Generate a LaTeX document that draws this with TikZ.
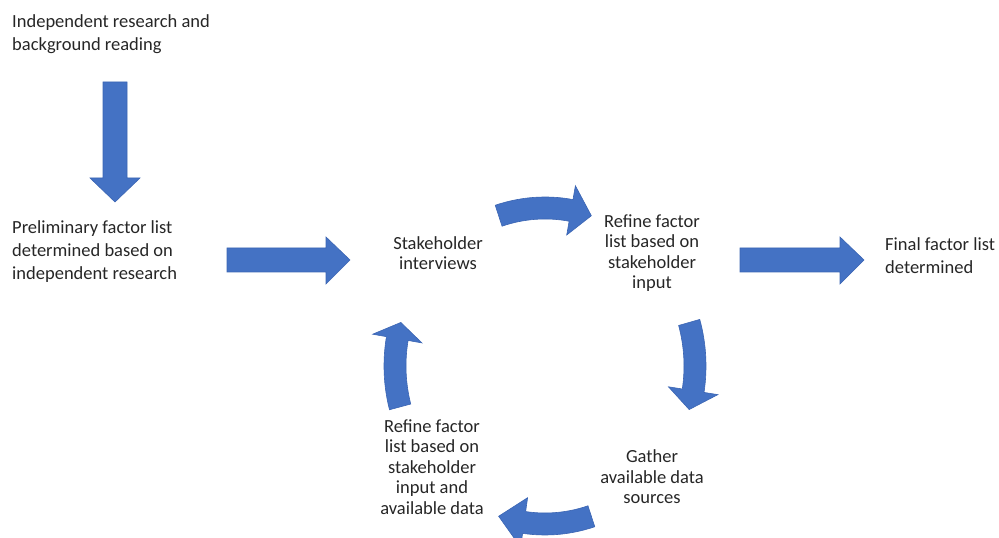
\documentclass[tikz,border=0pt]{standalone}
\usepackage{fontspec}
\setmainfont{Carlito}
\definecolor{arrowblue}{HTML}{4472C4}
\definecolor{arrowedge}{HTML}{3B65B3}
\definecolor{textgray}{HTML}{262626}

\tikzset{
  blockarrow/.style={fill=arrowblue, draw=arrowedge, line width=0.6pt, line join=miter},
  leftlabel/.style={align=left, inner sep=0pt, text=textgray, font=\fontsize{18.5}{23}\selectfont},
  midlabel/.style={align=center, inner sep=0pt, text=textgray, font=\fontsize{18.5}{20.6}\selectfont}
}

% curved block arrow on the loop: tail angle, head base angle, tip angle
\newcommand{\bentarrow}[3]{%
  \draw[blockarrow] (#1:161pt and 169pt)
    arc[start angle=#1, end angle=#2, x radius=161pt, y radius=169pt]
    -- (#2:175pt and 183pt) -- (#3:150pt and 158pt) -- (#2:125pt and 133pt)
    -- (#2:139pt and 147pt)
    arc[start angle=#2, end angle=#1, x radius=139pt, y radius=147pt] -- cycle;}

\begin{document}
\begin{tikzpicture}[x=1pt, y=1pt]

            \useasboundingbox (0,0) rectangle (999,538);
            \clip (0,0) rectangle (999,538);

            \node[leftlabel, anchor=west]
            	(research) 	at (12,504) {Independent research and\\background reading};
            \node[leftlabel, anchor=west]
            	(prelim) 	at (12,286) {Preliminary factor list\\determined based on\\independent research};
            \node[midlabel]
            	(interviews) at (438,285) {Stakeholder\\interviews};
            \node[midlabel]
            	(refineA) 	at (652,285) {Refine factor\\list based on\\stakeholder\\input};
            \node[leftlabel, anchor=west]
            	(final) 	at (885,282) {Final factor list\\determined};
            \node[midlabel]
            	(gather) 	at (652,61) {Gather\\available data\\sources};
            \node[midlabel]
            	(refineB) 	at (432,71) {Refine factor\\list based on\\stakeholder\\input and\\available data};

            % straight block arrows
            \draw[blockarrow] (103,456) -- (127,456) -- (127,360) -- (140,360)
                -- (115,336) -- (90,360) -- (103,360) -- cycle;
            \draw[blockarrow] (227,290) -- (326,290) -- (326,301) -- (350,278)
                -- (326,254) -- (326,266) -- (227,266) -- cycle;
            \draw[blockarrow] (740,290) -- (840,290) -- (840,301) -- (864,278)
                -- (840,254) -- (840,266) -- (740,266) -- cycle;

            % the feedback loop
            \begin{scope}[shift={(545,172)}]
                \bentarrow{108}{80}{72}
                \bentarrow{16}{-9}{-16}
                \bentarrow{-72}{-98}{-108}
                \bentarrow{195}{170}{164}
            \end{scope}
        \end{tikzpicture}
\end{document}
